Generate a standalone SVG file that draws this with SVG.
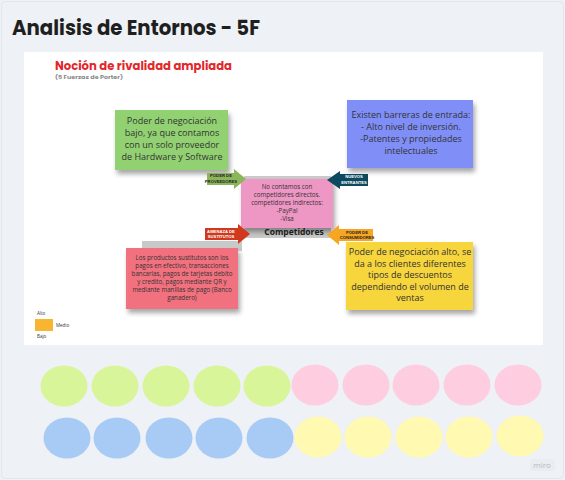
<svg xmlns="http://www.w3.org/2000/svg" width="565" height="480" viewBox="0 0 565 480">
<defs>
<filter id="sh" x="-10%" y="-10%" width="120%" height="140%">
<feGaussianBlur in="SourceAlpha" stdDeviation="2.5"/>
<feOffset dx="2" dy="4" result="b"/>
<feComponentTransfer><feFuncA type="linear" slope="0.35"/></feComponentTransfer>
<feMerge><feMergeNode/><feMergeNode in="SourceGraphic"/></feMerge>
</filter>
<style>
.t{font-family:"Open Sans","Liberation Sans",sans-serif;fill:#333;text-anchor:middle}
.big{font-size:9px}
.sm{font-size:6.2px}
.ar{font-family:"Liberation Sans",sans-serif;font-size:4.2px;font-weight:bold;text-anchor:middle}
</style>
</defs>
<rect x="0" y="0" width="565" height="480" fill="#eef1f5"/>
<rect x="1.5" y="1.5" width="562" height="477" rx="4" fill="none" stroke="#e3e6ea"/>
<text x="12" y="35" font-family="Poppins,'Open Sans','Liberation Sans',sans-serif" font-weight="bold" font-size="21" fill="#1f1f1f" textLength="248" lengthAdjust="spacingAndGlyphs">Analisis de Entornos - 5F</text>
<rect x="24" y="52" width="519" height="293" fill="#ffffff"/>
<text x="55" y="70" font-family="Poppins,'Open Sans','Liberation Sans',sans-serif" font-weight="bold" font-size="12" fill="#e3262c" textLength="177" lengthAdjust="spacingAndGlyphs">Noción de rivalidad ampliada</text>
<text x="55" y="78.5" font-family="Poppins,'Open Sans','Liberation Sans',sans-serif" font-weight="bold" font-size="5.2" fill="#8a8a8a" textLength="68" lengthAdjust="spacingAndGlyphs">(5 Fuerzas de Porter)</text>

<g id="proveedores">
<rect x="115" y="110" width="113" height="60" fill="#92d172" filter="url(#sh)"/>
<text class="t big" x="172" y="124">Poder de negociación</text>
<text class="t big" x="172" y="136">bajo, ya que contamos</text>
<text class="t big" x="172" y="148">con un solo proveedor</text>
<text class="t big" x="172" y="160">de Hardware y Software</text>
</g>
<g id="entrantes">
<rect x="347" y="100" width="126" height="68" fill="#7f8ff7" filter="url(#sh)"/>
<text class="t big" x="411" y="118">Existen barreras de entrada:</text>
<text class="t big" x="411" y="130">- Alto nivel de inversión.</text>
<text class="t big" x="411" y="142">-Patentes y propiedades</text>
<text class="t big" x="411" y="154">intelectuales</text>
</g>
<g id="competidores">
<rect x="244" y="176" width="87" height="62" fill="#c9c9c9"/>
<text x="294" y="235" font-family="'Open Sans','Liberation Sans',sans-serif" font-weight="bold" font-size="8.5" fill="#222" text-anchor="middle">Competidores</text>
<rect x="241" y="179" width="92" height="49" fill="#ee97c4" filter="url(#sh)"/>
<text class="t sm" x="287" y="189">No contamos con</text>
<text class="t sm" x="287" y="197">competidores directos.</text>
<text class="t sm" x="287" y="205">competidores indirectos:</text>
<text class="t sm" x="287" y="213">-PayPal</text>
<text class="t sm" x="287" y="221">-Visa</text>
</g>
<g id="sustitutos">
<rect x="142" y="241" width="100" height="10" fill="#c9c9c9"/>
<rect x="126" y="248" width="112" height="61" fill="#f2717f" filter="url(#sh)"/>
<text class="t sm" x="182" y="260">Los productos sustitutos son los</text>
<text class="t sm" x="182" y="268">pagos en efectivo, transacciones</text>
<text class="t sm" x="182" y="276">bancarias, pagos de tarjetas debito</text>
<text class="t sm" x="182" y="284">y credito, pagos mediante QR y</text>
<text class="t sm" x="182" y="292">mediante manillas de pago (Banco</text>
<text class="t sm" x="182" y="300">ganadero)</text>
</g>
<g id="consumidores">
<rect x="346" y="242" width="127" height="68" fill="#f7d53c" filter="url(#sh)"/>
<text class="t big" x="410" y="255">Poder de negociación alto, se</text>
<text class="t big" x="410" y="266.5">da a los clientes diferentes</text>
<text class="t big" x="410" y="278">tipos de descuentos</text>
<text class="t big" x="410" y="289.5">dependiendo el volumen de</text>
<text class="t big" x="410" y="301">ventas</text>
</g>

<g id="connectors">
<path d="M207 173 H234 V169 L246 179 L234 189 V185 H207 Z" fill="#8cb65a"/>
<text class="ar" x="221" y="177" fill="#222">PODER DE</text>
<text class="ar" x="221" y="182.5" fill="#222">PROVEEDORES</text>
<path d="M368 174 H340 V171 L327 180 L340 189 V186 H368 Z" fill="#0e4a5f"/>
<text class="ar" x="354" y="178" fill="#fff">NUEVOS</text>
<text class="ar" x="354" y="183.5" fill="#fff">ENTRANTES</text>
<path d="M205 228 H238 V224 L250 234 L238 244 V240 H205 Z" fill="#d0391d"/>
<text class="ar" x="221" y="232.5" fill="#fff">AMENAZA DE</text>
<text class="ar" x="221" y="238" fill="#fff">SUSTITUTOS</text>
<path d="M373 229 H339 V225 L327 235 L339 245 V241 H373 Z" fill="#f6a623"/>
<text class="ar" x="357" y="233.5" fill="#222">PODER DE</text>
<text class="ar" x="357" y="239" fill="#222">CONSUMIDORES</text>
</g>

<g id="leyenda" font-family="'Open Sans','Liberation Sans',sans-serif" font-size="4.5" fill="#333">
<text x="37" y="315">Alto</text>
<rect x="35" y="319" width="18" height="12" fill="#f8b530"/>
<text x="56" y="327">Medio</text>
<text x="37" y="338">Bajo</text>
</g>

<g id="puntos">
<g fill="#d8f699">
<ellipse cx="64" cy="386" rx="23.5" ry="20.5"/>
<ellipse cx="115" cy="386" rx="23.5" ry="20.5"/>
<ellipse cx="166" cy="386" rx="23.5" ry="20.5"/>
<ellipse cx="217" cy="386" rx="23.5" ry="20.5"/>
<ellipse cx="267" cy="386" rx="23.5" ry="20.5"/>
</g>
<g fill="#ffcde0">
<ellipse cx="315" cy="385" rx="23.5" ry="20.5"/>
<ellipse cx="366" cy="385" rx="23.5" ry="20.5"/>
<ellipse cx="416" cy="385" rx="23.5" ry="20.5"/>
<ellipse cx="467" cy="385" rx="23.5" ry="20.5"/>
<ellipse cx="518" cy="385" rx="23.5" ry="20.5"/>
</g>
<g fill="#a7cbf5">
<ellipse cx="67" cy="438" rx="23.5" ry="20.5"/>
<ellipse cx="117" cy="438" rx="23.5" ry="20.5"/>
<ellipse cx="169" cy="438" rx="23.5" ry="20.5"/>
<ellipse cx="219" cy="438" rx="23.5" ry="20.5"/>
<ellipse cx="270" cy="438" rx="23.5" ry="20.5"/>
</g>
<g fill="#fff9b1">
<ellipse cx="318" cy="437" rx="23.5" ry="20.5"/>
<ellipse cx="368" cy="437" rx="23.5" ry="20.5"/>
<ellipse cx="419" cy="437" rx="23.5" ry="20.5"/>
<ellipse cx="469" cy="437" rx="23.5" ry="20.5"/>
<ellipse cx="520" cy="436" rx="23.5" ry="20.5"/>
</g>
</g>
<rect x="530" y="459" width="25" height="12" rx="2" fill="#e9ecf0"/>
<text x="542" y="468" font-family="'Open Sans','Liberation Sans',sans-serif" font-size="8" fill="#b8bcc2" text-anchor="middle">miro</text>
</svg>
